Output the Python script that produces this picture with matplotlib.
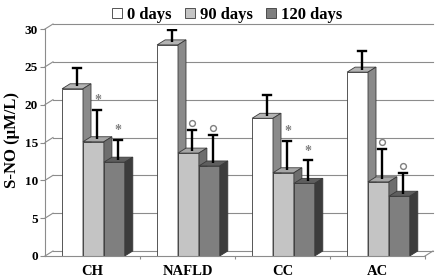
import numpy as np
import matplotlib
matplotlib.use('Agg')
import matplotlib.pyplot as plt
from matplotlib.patches import Polygon, Patch

# data
groups = ['CH', 'NAFLD', 'CC', 'AC']
series = ['0 days', '90 days', '120 days']
day0 = [22.1, 27.9, 18.2, 24.3]
day90 = [15.1, 13.6, 11.0, 9.8]
day120 = [12.4, 11.9, 9.6, 7.9]
err0 = [2.4, 1.7, 2.8, 2.4]
err90 = [3.9, 2.7, 3.9, 4.0]
err120 = [2.6, 3.8, 2.7, 2.7]
marks0 = ['', '', '', '']
marks90 = ['*', 'o', '*', 'o']
marks120 = ['*', 'o', '*', 'o']
yticks = [0, 5, 10, 15, 20, 25, 30]

plt.rcParams['font.family'] = ['Liberation Serif', 'DejaVu Serif']
plt.rcParams['font.weight'] = 'bold'

fig = plt.figure(figsize=(4.41, 2.79), dpi=100)
ax = fig.add_axes([45 / 441, 23 / 279, 380 / 441, 227 / 279])
ax.set_xlim(-0.5, 3.5)
ax.set_ylim(0, 30)

# depth of the fake 3D look, in data units (8 px right, 5 px up)
dx = 8 / 95
dy = 5 / (227 / 30)

grid_c = '#8c8c8c'
edge_c = '#3a3a3a'

# back wall gridlines and left wall slants
for v in yticks:
    ax.plot([-0.5 + dx, 3.5 + dx], [v + dy, v + dy], color=grid_c, lw=0.8,
            clip_on=False, zorder=1)
    ax.plot([-0.5, -0.5 + dx], [v, v + dy], color=grid_c, lw=0.8,
            clip_on=False, zorder=1)
ax.plot([3.5, 3.5 + dx], [0, dy], color=grid_c, lw=0.8, clip_on=False, zorder=1)

vals = [day0, day90, day120]
errs = [err0, err90, err120]
marks = [marks0, marks90, marks120]
fronts = ['#ffffff', '#c4c4c4', '#7f7f7f']
tops = ['#b4b4b4', '#a6a6a6', '#5e5e5e']
sides = ['#8a8a8a', '#6e6e6e', '#3c3c3c']
width = 0.22
offsets = [-0.21, 0.01, 0.23]

x = np.arange(len(groups))
z = 3
for i in range(len(groups)):
    for k in range(3):
        v = vals[k][i]
        x0 = x[i] + offsets[k] - width / 2
        x1 = x0 + width
        ax.bar(x0, v, width=width, align='edge', color=fronts[k],
               edgecolor=edge_c, linewidth=0.6, zorder=z)
        top = Polygon([(x0, v), (x1, v), (x1 + dx, v + dy), (x0 + dx, v + dy)],
                      closed=True, facecolor=tops[k], edgecolor=edge_c,
                      linewidth=0.6, zorder=z)
        side = Polygon([(x1, 0), (x1 + dx, dy), (x1 + dx, v + dy), (x1, v)],
                       closed=True, facecolor=sides[k], edgecolor=edge_c,
                       linewidth=0.6, zorder=z)
        ax.add_patch(top)
        ax.add_patch(side)
        z += 1

# error bars (upper only) from the middle of the top face
cap = 0.042
for i in range(len(groups)):
    for k in range(3):
        v = vals[k][i]
        xc = x[i] + offsets[k] + dx / 2
        y0 = v + dy / 2
        y1 = y0 + errs[k][i]
        ax.plot([xc, xc], [y0, y1], color='black', lw=1.7, zorder=50,
                solid_capstyle='butt')
        ax.plot([xc - cap, xc + cap], [y1, y1], color='black', lw=1.7, zorder=50)
        m = marks[k][i]
        if m == '*':
            ax.text(xc, y1 + 0.35, '*', ha='center', va='bottom', fontsize=10,
                    color='#808080', zorder=51)
        elif m == 'o':
            ax.plot(xc, y1 + 0.95, marker='o', ms=4.2, mfc='white',
                    mec='#808080', mew=1.0, zorder=51, clip_on=False)

# axes styling
for s in ['top', 'right']:
    ax.spines[s].set_visible(False)
ax.spines['left'].set_color(grid_c)
ax.spines['left'].set_linewidth(0.8)
ax.spines['bottom'].set_color(grid_c)
ax.spines['bottom'].set_linewidth(0.8)
ax.spines['bottom'].set_zorder(60)

ax.set_yticks(yticks)
ax.set_yticklabels([str(t) for t in yticks], fontsize=9.5, fontweight='bold')
ax.tick_params(axis='y', length=3.6, width=0.8, color=grid_c, pad=1.5)

ax.set_xticks(x)
ax.set_xticklabels(groups, fontsize=10.5, fontweight='bold')
ax.tick_params(axis='x', which='major', length=0, pad=6.5)
ax.set_xticks([0.5, 1.5, 2.5, 3.5], minor=True)
ax.tick_params(axis='x', which='minor', length=2.5, width=0.8, color=grid_c)
ax.set_facecolor('none')

fig.text(0.027, 0.50, 'S-NO (μM/L)', rotation=90, ha='center', va='center',
         fontsize=12, fontweight='bold')

handles = [Patch(facecolor=c, edgecolor=edge_c, linewidth=0.6) for c in fronts]
fig.legend(handles, series, loc='upper center', bbox_to_anchor=(0.516, 1.0),
           ncol=3, frameon=False, handlelength=0.6, handleheight=0.6,
           handletextpad=0.3, columnspacing=0.8, borderaxespad=0,
           prop=dict(weight='bold', size=12))

fig.savefig('out.png', dpi=100)
